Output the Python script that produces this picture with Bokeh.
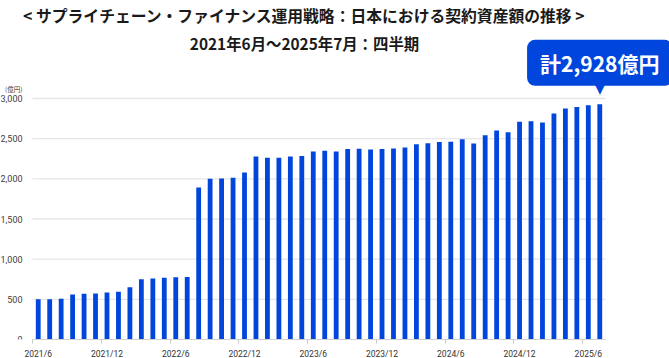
from bokeh.plotting import figure
from bokeh.models import Label, FixedTicker, NumeralTickFormatter, ColumnDataSource, Range1d
from bokeh.embed import file_html
from bokeh.resources import INLINE

title_line1 = "< サプライチェーン・ファイナンス運用戦略：日本における契約資産額の推移 >"
title_line2 = "2021年6月〜2025年7月：四半期"
unit_label = "(億円)"
callout_text = "計2,928億円"

months = [
    "2021/6", "2021/7", "2021/8", "2021/9", "2021/10", "2021/11", "2021/12",
    "2022/1", "2022/2", "2022/3", "2022/4", "2022/5", "2022/6", "2022/7",
    "2022/8", "2022/9", "2022/10", "2022/11", "2022/12",
    "2023/1", "2023/2", "2023/3", "2023/4", "2023/5", "2023/6", "2023/7",
    "2023/8", "2023/9", "2023/10", "2023/11", "2023/12",
    "2024/1", "2024/2", "2024/3", "2024/4", "2024/5", "2024/6", "2024/7",
    "2024/8", "2024/9", "2024/10", "2024/11", "2024/12",
    "2025/1", "2025/2", "2025/3", "2025/4", "2025/5", "2025/6", "2025/7",
]
values = [
    500, 500, 506, 560, 568, 573, 585,
    593, 651, 751, 759, 768, 774, 778,
    1892, 2000, 2004, 2013, 2079,
    2278, 2262, 2262, 2278, 2283, 2341, 2349,
    2341, 2370, 2374, 2366, 2370,
    2378, 2390, 2432, 2444, 2457, 2461, 2494,
    2440, 2544, 2602, 2581, 2710,
    2718, 2702, 2814, 2876, 2893, 2917, 2928,
]
label_months = ["2021/6", "2021/12", "2022/6", "2022/12", "2023/6",
                "2023/12", "2024/6", "2024/12", "2025/6"]
y_ticks = [0, 500, 1000, 1500, 2000, 2500, 3000]

BLUE = "#0046DC"
W, H = 669, 358
n = len(months)
YMAX = y_ticks[-1]

# layout geometry (pixels)
BOTTOM = 19                # space for the x labels
DATA_L, DATA_R = 32, 605   # where the bar area starts / ends
DATA_T, DATA_B = 98, 339   # y of 3000 and of 0
U = (DATA_R - DATA_L) / n  # pixels per month
V = (DATA_B - DATA_T) / YMAX  # pixels per unit

x_start = -0.5 - DATA_L / U
x_end = -0.5 + (W - DATA_L) / U
y_end = DATA_B / V


def dx(px):
    return -0.5 + (px - DATA_L) / U


def dy(py):
    return (DATA_B - py) / V


src = ColumnDataSource(dict(x=list(range(n)), month=months, value=values))

p = figure(frame_width=W, frame_height=H - BOTTOM,
           min_border_left=0, min_border_right=0,
           min_border_top=0, min_border_bottom=BOTTOM,
           x_range=Range1d(x_start, x_end), y_range=Range1d(0, y_end),
           output_backend="svg", toolbar_location=None,
           background_fill_color="white", border_fill_color="white",
           outline_line_color=None)
p.xgrid.visible = False
p.ygrid.visible = False

# horizontal grid lines across the bar area only
grid_y = y_ticks[1:]
p.segment(x0=[-0.5] * len(grid_y), x1=[n - 0.5] * len(grid_y), y0=grid_y, y1=grid_y,
          line_color="#e6e6e6", line_width=1.3)

p.vbar(x="x", top="value", width=0.42, fill_color=BLUE, line_color=None, source=src)

# y axis drawn at the left edge of the bar area
p.yaxis.fixed_location = -0.5
p.yaxis.ticker = FixedTicker(ticks=y_ticks)
p.yaxis.formatter = NumeralTickFormatter(format="0,0")
p.yaxis.axis_line_color = None
p.yaxis.major_tick_line_color = None
p.yaxis.major_tick_out = 0
p.yaxis.major_tick_in = 0
p.yaxis.minor_tick_line_color = None
p.yaxis.minor_tick_out = 0
p.yaxis.major_label_standoff = 10
p.yaxis.major_label_text_font = "Roboto"
p.yaxis.major_label_text_font_size = "9px"
p.yaxis.major_label_text_color = "#404040"

# x axis
label_idx = [months.index(m) for m in label_months]
p.xaxis.ticker = FixedTicker(ticks=label_idx, minor_ticks=[i - 0.5 for i in label_idx])
p.xaxis.major_label_overrides = {i: months[i] for i in label_idx}
p.xaxis.bounds = (-0.5, n - 0.5)
p.xaxis.axis_line_color = "#d0d0d0"
p.xaxis.major_tick_line_color = None
p.xaxis.major_tick_out = 0
p.xaxis.major_tick_in = 0
p.xaxis.minor_tick_line_color = "#c8c8c8"
p.xaxis.minor_tick_in = 0
p.xaxis.minor_tick_out = 4
p.xaxis.major_label_standoff = 5
p.xaxis.major_label_text_font = "Roboto"
p.xaxis.major_label_text_font_size = "8.5px"
p.xaxis.major_label_text_color = "#333333"

# unit label
p.add_layout(Label(x=dx(22), y=dy(88), text=unit_label, text_align="right",
                   text_baseline="middle", text_font="Noto Sans CJK JP",
                   text_font_size="6.5px", text_color="#404040"))

# titles
for txt, py, fs in [(title_line1, 15, "15.8px"), (title_line2, 42, "15.4px")]:
    p.add_layout(Label(x=dx(304), y=dy(py), text=txt, text_align="center",
                       text_baseline="middle", text_font="Noto Sans CJK JP",
                       text_font_style="bold", text_font_size=fs,
                       text_color="#1a1a1a"))

# callout on the last bar
p.add_layout(Label(x=n - 1, y=values[-1], y_offset=16, text="▼", text_align="center",
                   text_baseline="middle", text_font="DejaVu Sans",
                   text_font_size="14px", text_color=BLUE))
p.add_layout(Label(x=n - 1, y=values[-1], y_offset=41.5, text=callout_text,
                   text_align="center", text_baseline="middle",
                   text_font="Noto Sans CJK JP", text_font_style="bold",
                   text_font_size="21px", text_color="white",
                   background_fill_color=BLUE, border_radius=8,
                   padding=dict(left=13, right=13, top=8, bottom=8)))

open("out.html", "w").write(file_html(p, INLINE))
